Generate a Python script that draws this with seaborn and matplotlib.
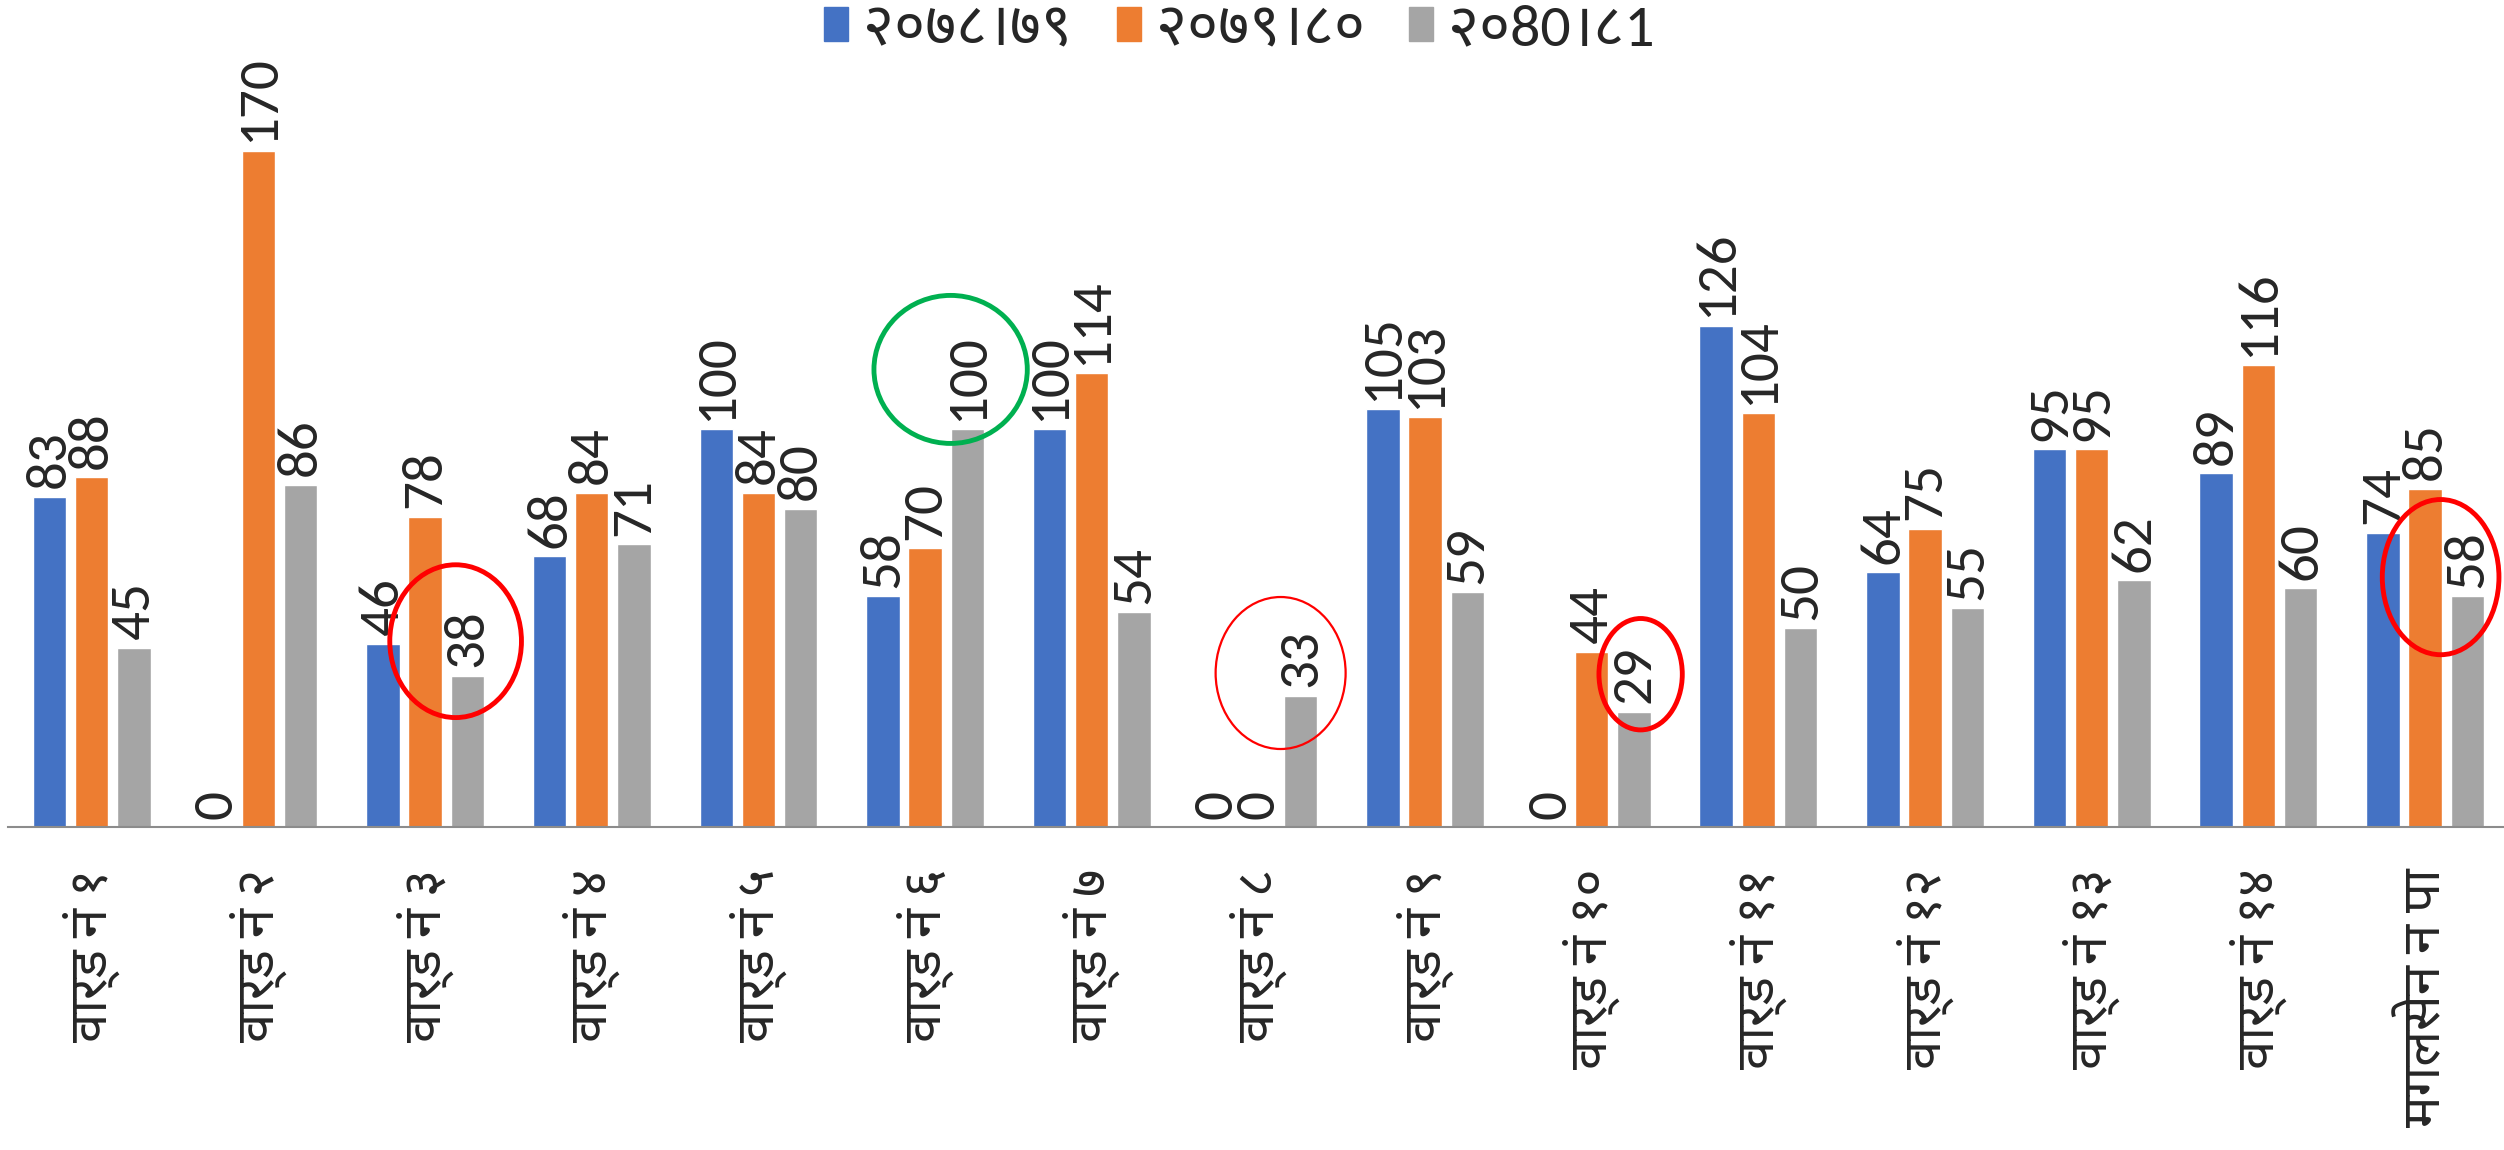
import pandas as pd
import matplotlib
matplotlib.use("Agg")
import matplotlib.pyplot as plt
from matplotlib import font_manager
from matplotlib.patches import Ellipse
import seaborn as sns

wards = ["वार्ड नं १", "वार्ड नं २", "वार्ड नं ३", "वार्ड नं ४", "वार्ड नं ५",
         "वार्ड नं ६", "वार्ड नं ७", "वार्ड नं ८", "वार्ड नं ९", "वार्ड नं १०",
         "वार्ड नं ११", "वार्ड नं १२", "वार्ड नं १३", "वार्ड नं १४", "मगलसेन न पा"]
years = ["२०७८।७९", "२०७९।८०", "२०80।८1"]
y7879 = [83, 0, 46, 68, 100, 58, 100, 0, 105, 0, 126, 64, 95, 89, 74]
y7980 = [88, 170, 78, 84, 84, 70, 114, 0, 103, 44, 104, 75, 95, 116, 85]
y8081 = [45, 86, 38, 71, 80, 100, 54, 33, 59, 29, 50, 55, 62, 60, 58]
colors = ["#4472C4", "#ED7D31", "#A5A5A5"]

# highlighted gray-bar labels: (ward index, dx, dy, width, height, colour, linewidth)
marks = [(2, -0.07, 8.7, 0.79, 38.4, "#FF0000", 3.5),
         (5, -0.10, 15.0, 0.92, 37.2, "#00B050", 3.5),
         (7, -0.12, 5.7, 0.78, 38.2, "#FF0000", 1.6),
         (9, 0.04, 9.4, 0.50, 28.0, "#FF0000", 3.5),
         (14, -0.16, 4.8, 0.70, 39.0, "#FF0000", 3.5)]


def pick(names, fallback):
    have = {f.name for f in font_manager.fontManager.ttflist}
    for n in names:
        if n in have:
            return n
    return fallback


sns.set_theme(style="white")
latin = pick(["Carlito", "Lato"], "DejaVu Sans")
deva = pick(["Noto Sans Devanagari", "Hind", "Mukta", "Yantramanav"], "DejaVu Sans")
plt.rcParams["font.family"] = [latin, deva, "DejaVu Sans"]
num_size = 41 if latin == "Carlito" else 38

df = pd.DataFrame({
    "ward": wards * 3,
    "year": [years[0]] * 15 + [years[1]] * 15 + [years[2]] * 15,
    "value": y7879 + y7980 + y8081,
})

fig = plt.figure(figsize=(25.04, 11.5), dpi=100)
ax = fig.add_axes([8.4 / 2504, 1 - 827 / 1150, 2500 / 2504, 756 / 1150])

sns.barplot(data=df, x="ward", y="value", hue="year", palette=colors,
            width=0.76, gap=0.21, saturation=1, errorbar=None, ax=ax)

for cont in ax.containers:
    ax.bar_label(cont, rotation=90, padding=6, fontsize=num_size)

ax.set_ylim(0, 190)
ax.set_xlim(-0.5, len(wards) - 0.5)
ax.set_xlabel("")
ax.set_ylabel("")
ax.set_yticks([])
ax.tick_params(axis="x", length=0, pad=30, labelsize=38, labelrotation=90)
for sp in ["top", "left", "right"]:
    ax.spines[sp].set_visible(False)
ax.spines["bottom"].set_color("#8C8C8C")
ax.spines["bottom"].set_linewidth(1.5)

gray_bars = ax.containers[2]
for i, dx, dy, w, h, c, lw in marks:
    b = gray_bars[i]
    cx = b.get_x() + b.get_width() / 2 + dx
    ax.add_patch(Ellipse((cx, y8081[i] + dy), w, h, fill=False,
                         edgecolor=c, linewidth=lw, clip_on=False, zorder=5))

ax.get_legend().remove()
handles = [plt.Rectangle((0, 0), 1, 1, color=c) for c in colors]
fig.legend(handles, years, loc="center", bbox_to_anchor=(0.495, 1 - 30 / 1150),
           ncol=3, frameon=False, fontsize=43, handlelength=0.4,
           handleheight=0.5, handletextpad=0.25, columnspacing=0.75)

fig.savefig("out.png", dpi=100)
